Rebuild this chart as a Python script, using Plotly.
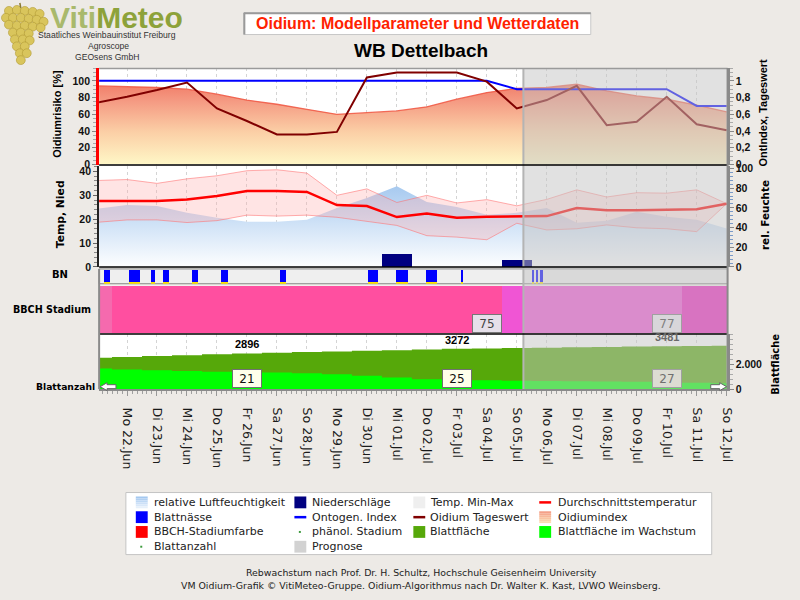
import plotly.graph_objects as go

W, H = 800, 600
def px(x): return x / W
def py(y): return 1 - y / H

# ---------------- data ----------------
days = list(range(-1, 21))            # 21 Jun .. 12 Jul (0 = 22 Jun)
tick_days = list(range(0, 21))
date_labels = ["Mo 22.Jun", "Di 23.Jun", "Mi 24.Jun", "Do 25.Jun", "Fr 26.Jun", "Sa 27.Jun",
               "So 28.Jun", "Mo 29.Jun", "Di 30.Jun", "Mi 01.Jul", "Do 02.Jul", "Fr 03.Jul",
               "Sa 04.Jul", "So 05.Jul", "Mo 06.Jul", "Di 07.Jul", "Mi 08.Jul", "Do 09.Jul",
               "Fr 10.Jul", "Sa 11.Jul", "So 12.Jul"]

oidium_index = [94, 93, 92, 90, 84, 77, 72, 66, 60, 62, 64, 69, 78, 86, 91, 92, 96, 88, 82, 78, 71, 63]
oidium_tageswert = [0.74, 0.81, 0.89, 0.98, 0.67, 0.52, 0.36, 0.36, 0.39, 1.04, 1.10, 1.10, 1.10,
                    0.99, 0.67, 0.77, 0.94, 0.47, 0.51, 0.81, 0.48, 0.41]
ontogen_index = [1.0, 1.0, 1.0, 1.0, 1.0, 1.0, 1.0, 1.0, 1.0, 1.0, 1.0, 1.0, 1.0, 1.0,
                 0.9, 0.9, 0.9, 0.9, 0.9, 0.9, 0.7, 0.7]

temp_max = [36.2, 36.6, 35.0, 36.9, 38.2, 40.3, 40.7, 39.3, 30.0, 32.7, 27.0, 30.0, 26.8, 28.2,
            25.6, 28.3, 32.3, 29.3, 31.1, 30.9, 32.3, 26.5]
temp_min = [18.7, 19.7, 19.7, 18.6, 19.4, 21.7, 21.3, 21.7, 20.8, 19.0, 17.4, 13.1, 12.5, 11.4,
            18.3, 15.5, 16.0, 17.6, 16.4, 16.0, 14.8, 26.5]
temp_mean = [27.6, 27.6, 27.6, 28.2, 29.7, 31.8, 31.8, 31.4, 25.9, 25.5, 20.9, 22.4, 20.6, 21.0,
             21.0, 21.3, 24.7, 23.7, 23.7, 24.0, 24.2, 26.5]
rel_humidity = [59, 63, 62, 55, 50, 46, 46, 48, 60, 70, 82, 66, 61, 53, 55, 60, 45, 47, 56, 51, 48, 39]
precipitation = [0, 0, 0, 0, 0, 0, 0, 0, 0, 0, 5.6, 0, 0, 0, 3.3, 0, 0, 0, 0, 0, 0, 0]

# leaf wetness periods (day offsets from 22 Jun 00:00)
bn_start = [-0.76, 0.07, 0.79, 1.19, 2.18, 3.14, 5.12, 8.03, 8.99, 9.98, 11.14, 13.52, 13.65, 13.79]
bn_end = [-0.56, 0.43, 0.93, 1.39, 2.38, 3.37, 5.29, 8.36, 9.39, 10.35, 11.21, 13.59, 13.72, 13.88]

# BBCH stage periods
bbch_start = [-1.0, -0.5, 12.5, 13.22, 18.5]
bbch_end = [-0.5, 12.5, 13.22, 18.5, 20.5]
bbch_label_days = [12, 18]
bbch_label_values = [75, 77]

blattflaeche = [2540, 2610, 2680, 2755, 2825, 2896, 2950, 3005, 3058, 3112, 3165, 3218, 3272,
                3302, 3332, 3362, 3392, 3422, 3452, 3481, 3505, 3525]
blattflaeche_wachstum = [1680, 1600, 1540, 1480, 1420, 1400, 1340, 1280, 1200, 1080, 940, 800,
                         760, 720, 680, 650, 640, 620, 600, 560, 520, 480]
label_days = [4, 11, 18]
blattanzahl = [21, 25, 27]

prognose_start = 13.22
x_range = [-0.93, 20.03]

# ---------------- styles ----------------
bbch_colors = ['#F56AAE', '#FF4FA0', '#F055D4', '#F055D4', '#EC22BE']
BG = '#EDEAE6'
TICKFONT = dict(family='Liberation Sans', size=10.5, color='#111', weight='bold')

fig = go.Figure()

# --- top panel ---
fig.add_trace(go.Scatter(
    x=days, y=oidium_index, xaxis='x', yaxis='y', mode='lines', fill='tozeroy',
    line=dict(color='rgba(240,85,65,0.85)', width=1.3),
    fillgradient=dict(type='vertical',
                      colorscale=[[0, '#FFF9C8'], [0.4, '#FBCFA6'], [0.75, '#F59C84'], [1, '#F07864']],
                      start=0, stop=100),
    hoverinfo='skip', showlegend=False))
fig.add_trace(go.Scatter(x=days, y=ontogen_index, xaxis='x', yaxis='y2', mode='lines',
                         line=dict(color='#0000FF', width=2), hoverinfo='skip', showlegend=False))
fig.add_trace(go.Scatter(x=days, y=oidium_tageswert, xaxis='x', yaxis='y2', mode='lines',
                         line=dict(color='#800000', width=2), hoverinfo='skip', showlegend=False))

# --- middle panel ---
fig.add_trace(go.Scatter(
    x=days, y=rel_humidity, xaxis='x2', yaxis='y3', mode='lines', fill='tozeroy',
    line=dict(width=0, color='rgba(0,0,0,0)'),
    fillgradient=dict(type='vertical', colorscale=[[0, '#FFFFFF'], [1, '#94BEEC']], start=0, stop=100),
    hoverinfo='skip', showlegend=False))
fig.add_trace(go.Scatter(x=days, y=temp_min, xaxis='x2', yaxis='y4', mode='lines',
                         line=dict(color='rgba(255,110,110,0.55)', width=1),
                         hoverinfo='skip', showlegend=False))
fig.add_trace(go.Scatter(x=days, y=temp_max, xaxis='x2', yaxis='y4', mode='lines', fill='tonexty',
                         fillcolor='rgba(255,170,170,0.32)',
                         line=dict(color='rgba(255,110,110,0.55)', width=1),
                         hoverinfo='skip', showlegend=False))
fig.add_trace(go.Bar(x=days, y=precipitation, xaxis='x2', yaxis='y4', width=1.0,
                     marker=dict(color='#000080', line=dict(width=0)),
                     hoverinfo='skip', showlegend=False))
fig.add_trace(go.Scatter(x=days, y=temp_mean, xaxis='x2', yaxis='y4', mode='lines',
                         line=dict(color='#FF0000', width=2.5), hoverinfo='skip', showlegend=False))

# --- BN panel ---
bn_center = [(s + e) / 2 for s, e in zip(bn_start, bn_end)]
bn_width = [e - s for s, e in zip(bn_start, bn_end)]
fig.add_trace(go.Bar(x=bn_center, y=[0.8] * len(bn_center), base=0.13, width=bn_width,
                     xaxis='x3', yaxis='y5', marker=dict(color='#0000FF', line=dict(width=0)),
                     hoverinfo='skip', showlegend=False))
fig.add_trace(go.Bar(x=bn_center, y=[0.1] * len(bn_center), base=0.03, width=bn_width,
                     xaxis='x3', yaxis='y5', marker=dict(color='#FFE400', line=dict(width=0)),
                     hoverinfo='skip', showlegend=False))

# --- BBCH panel ---
bb_center = [(s + e) / 2 for s, e in zip(bbch_start, bbch_end)]
bb_width = [e - s for s, e in zip(bbch_start, bbch_end)]
fig.add_trace(go.Bar(x=bb_center, y=[1] * len(bb_center), base=0, width=bb_width,
                     xaxis='x4', yaxis='y6', marker=dict(color=bbch_colors, line=dict(width=0)),
                     hoverinfo='skip', showlegend=False))

# --- Blattfläche panel ---
fig.add_trace(go.Scatter(x=days, y=blattflaeche, xaxis='x5', yaxis='y7', mode='lines',
                         line=dict(shape='hvh', width=0, color='#56A80A'), fill='tozeroy',
                         fillcolor='#56A80A', hoverinfo='skip', showlegend=False))
fig.add_trace(go.Scatter(x=days, y=blattflaeche_wachstum, xaxis='x5', yaxis='y7', mode='lines',
                         line=dict(shape='hvh', width=0, color='#00FF00'), fill='tozeroy',
                         fillcolor='#00FF00', hoverinfo='skip', showlegend=False))

# ---------------- axes ----------------
xdom = [px(100), px(734)]
grid = dict(showgrid=True, gridcolor='#D4D4D4', griddash='dot', gridwidth=1,
            tickmode='linear', tick0=0, dtick=1)
nogrid = dict(showgrid=False)
common_x = dict(domain=xdom, range=x_range, zeroline=False, showticklabels=False, ticks='')

layout = dict(
    width=W, height=H, autosize=False, margin=dict(l=0, r=0, t=0, b=0),
    paper_bgcolor=BG, plot_bgcolor='white', showlegend=False, hovermode=False,
    bargap=0, barmode='overlay',
    xaxis=dict(**common_x, anchor='y', **grid),
    xaxis2=dict(**common_x, anchor='y3', **grid),
    xaxis3=dict(**common_x, anchor='y5', **nogrid),
    xaxis4=dict(**common_x, anchor='y6', **nogrid),
    xaxis5=dict(domain=xdom, range=x_range, zeroline=False, anchor='y7',
                showgrid=True, gridcolor='#D4D4D4', griddash='dot',
                tickmode='array', tickvals=tick_days, ticktext=date_labels, tickangle=90,
                tickfont=dict(family='DejaVu Sans', size=12.5, color='#1A1A1A'),
                ticks='outside', ticklen=5, tickcolor='#999', ticklabelstandoff=9,
                showline=True, linecolor='#8A8A8A', linewidth=2,
                minor=dict(dtick=1 / 6, tick0=0, ticks='outside', ticklen=3, tickcolor='#A0A0A0',
                           showgrid=False)),
    yaxis=dict(domain=[py(164), py(66)], range=[0, 115.3], anchor='x',
               tickmode='array', tickvals=[0, 20, 40, 60, 80, 100], tickfont=TICKFONT,
               ticks='outside', ticklen=4, tickcolor='#888', showgrid=False, zeroline=False,
               showline=True, linecolor='#FF0000', linewidth=3,
               minor=dict(dtick=5, ticks='outside', ticklen=3, tickcolor='#AAA')),
    yaxis2=dict(overlaying='y', side='right', anchor='x', range=[0, 1.153],
                tickmode='array', tickvals=[0, 0.2, 0.4, 0.6, 0.8, 1.0],
                ticktext=['0', '0,2', '0,4', '0,6', '0,8', '1'], tickfont=TICKFONT,
                ticks='outside', ticklen=4, tickcolor='#888', showgrid=False, zeroline=False,
                showline=True, linecolor='#8A8A8A', linewidth=2,
                minor=dict(dtick=0.05, ticks='outside', ticklen=3, tickcolor='#AAA')),
    yaxis3=dict(domain=[py(268), py(165)], range=[0, 103], anchor='x2', side='right',
                tickmode='array', tickvals=[0, 20, 40, 60, 80, 100], tickfont=TICKFONT,
                ticks='outside', ticklen=4, tickcolor='#888', showgrid=False, zeroline=False,
                showline=True, linecolor='#8A8A8A', linewidth=2,
                minor=dict(dtick=4, ticks='outside', ticklen=3, tickcolor='#7A9AC8')),
    yaxis4=dict(overlaying='y3', side='left', anchor='x2', range=[0, 42.47],
                tickmode='array', tickvals=[0, 10, 20, 30, 40], tickfont=TICKFONT,
                ticks='outside', ticklen=4, tickcolor='#666', showgrid=False, zeroline=False,
                showline=True, linecolor='#222', linewidth=2,
                minor=dict(dtick=2, ticks='outside', ticklen=3, tickcolor='#888')),
    yaxis5=dict(domain=[py(285), py(270)], range=[0, 1], anchor='x3', showticklabels=False,
                ticks='', showgrid=False, zeroline=False),
    yaxis6=dict(domain=[py(335), py(287)], range=[0, 1], anchor='x4', showticklabels=False,
                ticks='', showgrid=False, zeroline=False),
    yaxis7=dict(domain=[py(392), py(336)], range=[0, 4480], anchor='x5', side='right',
                tickmode='array', tickvals=[0, 2000], ticktext=['0', '2.000'], tickfont=TICKFONT,
                ticks='outside', ticklen=4, tickcolor='#888', showgrid=False, zeroline=False,
                showline=True, linecolor='#8A8A8A', linewidth=2,
                minor=dict(dtick=400, ticks='outside', ticklen=3, tickcolor='#AAA')),
)
fig.update_layout(**layout)

# ---------------- shapes ----------------
shapes = []
def prect(x0, y0, x1, y1, **kw):
    return dict(type='rect', xref='paper', yref='paper', x0=px(x0), x1=px(x1), y0=py(y1), y1=py(y0), **kw)
def pline(x0, y0, x1, y1, color, width=1, layer='above'):
    return dict(type='line', xref='paper', yref='paper', x0=px(x0), x1=px(x1), y0=py(y0), y1=py(y1),
                line=dict(color=color, width=width), layer=layer)

# BN background
shapes.append(prect(100, 270, 734, 285, fillcolor='#EFEFEF', line=dict(color='#8A8A8A', width=1), layer='below'))
# prognosis overlay
shapes.append(dict(type='rect', xref='x', yref='paper', x0=prognose_start, x1=x_range[1],
                   y0=py(392), y1=py(66), fillcolor='rgba(195,195,195,0.5)', line=dict(width=0), layer='above'))
shapes.append(dict(type='line', xref='x', yref='paper', x0=prognose_start, x1=prognose_start,
                   y0=py(392), y1=py(66), line=dict(color='#B4B4B4', width=2), layer='above'))
# frame lines
shapes.append(pline(100, 66.5, 734, 66.5, '#9A9A9A', 1.5))
shapes.append(pline(100, 164.5, 734, 164.5, '#000', 1.5))
shapes.append(pline(100, 268, 734, 268, '#000', 1.5))
shapes.append(pline(100, 336, 734, 336, '#000', 1.5))
shapes.append(pline(100, 270, 100, 392, '#8A8A8A', 2))
shapes.append(pline(734, 66, 734, 392, '#8A8A8A', 2))

# title box
shapes.append(prect(246, 10, 596, 32, fillcolor='white', line=dict(color='#C8C8C8', width=1)))
shapes.append(pline(246, 10.5, 596, 10.5, '#9A9A9A', 2))
shapes.append(pline(246.5, 10, 246.5, 32, '#9A9A9A', 2))

# grape cluster logo
grapes = [(9, 8), (17, 7), (25, 8), (33, 9), (40, 11),
          (6, 15), (13, 15), (21, 15), (29, 16), (37, 17), (44, 19),
          (9, 22), (17, 23), (25, 23), (33, 24), (41, 25),
          (13, 30), (21, 30), (29, 31),
          (15, 37), (23, 37), (30, 38),
          (17, 44), (25, 44), (20, 51), (27, 51), (21, 58)]
for cx, cy in grapes:
    shapes.append(dict(type='circle', xref='paper', yref='paper', x0=px(cx - 4.5), x1=px(cx + 4.5),
                       y0=py(cy + 4.5), y1=py(cy - 4.5), fillcolor='#D9C55C',
                       line=dict(color='#B19B34', width=0.6)))
shapes.append(pline(20, 0, 21, 5, '#8A7A30', 1.5))

# arrows at Blattanzahl row
def ppath(points):
    return 'M ' + ' L '.join(f'{px(x):.5f},{py(y):.5f}' for x, y in points) + ' Z'
shapes.append(dict(type='path', xref='paper', yref='paper',
                   path=ppath([(101, 389.5), (108, 385.5), (108, 387.5), (117, 387.5), (117, 391.5),
                               (108, 391.5), (108, 393.5)]),
                   fillcolor='white', line=dict(color='#666', width=1)))
shapes.append(dict(type='path', xref='paper', yref='paper',
                   path=ppath([(733, 389.5), (726, 385.5), (726, 387.5), (717, 387.5), (717, 391.5),
                               (726, 391.5), (726, 393.5)]),
                   fillcolor='white', line=dict(color='#666', width=1)))

# legend box
shapes.append(prect(127, 497, 718, 560, fillcolor='white', line=dict(color='#C4C4C4', width=1)))

annotations = []
def ptext(x, y, text, size=11, color='#222', family='DejaVu Sans', weight='normal',
          xanchor='center', yanchor='middle', angle=0, **kw):
    return dict(xref='paper', yref='paper', x=px(x), y=py(y), text=text, showarrow=False,
                xanchor=xanchor, yanchor=yanchor, textangle=angle,
                font=dict(family=family, size=size, color=color, weight=weight), **kw)

legend_items = [
    ("relative Luftfeuchtigkeit", 'grad', ('#A4C8F0', '#E6F0FB'), 0, 0),
    ("Blattnässe", 'sq', '#0000FF', 0, 1),
    ("BBCH-Stadiumfarbe", 'sq', '#FF0000', 0, 2),
    ("Blattanzahl", 'dot', '#3C9A3C', 0, 3),
    ("Niederschläge", 'sq', '#000080', 1, 0),
    ("Ontogen. Index", 'line', '#0000FF', 1, 1),
    ("phänol. Stadium", 'dot', '#3C9A3C', 1, 2),
    ("Prognose", 'sq', '#D2D2D2', 1, 3),
    ("Temp. Min-Max", 'sq', '#EFEFEF', 2, 0),
    ("Oidium Tageswert", 'line', '#800000', 2, 1),
    ("Blattfläche", 'sq', '#56A80A', 2, 2),
    ("Durchschnittstemperatur", 'line', '#FF0000', 3, 0),
    ("Oidiumindex", 'grad', ('#F4A088', '#FCDCB4'), 3, 1),
    ("Blattfläche im Wachstum", 'sq', '#00FF00', 3, 2),
]
icon_x = [137, 297, 417, 544]
text_x = [153, 313, 432, 561]
row_y = [507, 522, 537, 552]
for label, kind, color, c, r in legend_items:
    x0, y0 = icon_x[c], row_y[r]
    if kind == 'sq':
        shapes.append(prect(x0, y0 - 6, x0 + 12, y0 + 6, fillcolor=color, line=dict(width=0)))
    elif kind == 'grad':
        for k in range(6):
            t = k / 5
            c0 = [int(color[0][i:i + 2], 16) for i in (1, 3, 5)]
            c1 = [int(color[1][i:i + 2], 16) for i in (1, 3, 5)]
            cc = 'rgb(%d,%d,%d)' % tuple(round(a + (b - a) * t) for a, b in zip(c0, c1))
            shapes.append(prect(x0, y0 - 6 + 2 * k, x0 + 12, y0 - 4 + 2 * k, fillcolor=cc, line=dict(width=0)))
    elif kind == 'line':
        shapes.append(pline(x0, y0, x0 + 12, y0, color, 2.5))
    elif kind == 'dot':
        shapes.append(prect(x0 + 4.5, y0 - 1, x0 + 6.5, y0 + 1, fillcolor=color, line=dict(width=0)))
    annotations.append(ptext(text_x[c], y0, label, size=11, color='#222', xanchor='left'))

# titles / logo
annotations.append(ptext(421, 21, 'Oidium: Modellparameter und Wetterdaten', size=16, color='#FF2200',
                         family='Liberation Sans', weight='bold'))
annotations.append(ptext(425, 48, 'WB Dettelbach', size=19, color='#000', family='Liberation Sans', weight='bold'))
annotations.append(ptext(48, 14, '<span style="color:#A9B96C">Viti</span><span style="color:#8DA23A">Meteo</span>',
                         size=30, color='#8DA23A', family='Liberation Sans', weight='bold', xanchor='left',
                         height=24, valign='middle'))
annotations.append(ptext(108, 32.5, 'Staatliches Weinbauinstitut Freiburg', size=8.6, color='#333', family='Liberation Sans'))
annotations.append(ptext(109, 44, 'Agroscope', size=8.6, color='#333', family='Liberation Sans'))
annotations.append(ptext(108, 55, 'GEOsens GmbH', size=8.6, color='#333', family='Liberation Sans'))

# axis titles
annotations.append(ptext(58, 112, 'Oidiumrisiko [%]', size=11, color='#000', family='Liberation Sans',
                         weight='bold', angle=-90))
annotations.append(ptext(61, 214, 'Temp, Nied', size=10.8, color='#000', weight='bold', angle=-90))
annotations.append(ptext(61, 276, 'BN', size=10, color='#000', weight='bold'))
annotations.append(ptext(52, 311, 'BBCH Stadium', size=9.6, color='#000', weight='bold'))
annotations.append(ptext(66, 389, 'Blattanzahl', size=9.2, color='#000', weight='bold'))
annotations.append(ptext(770, 111, 'OntIndex, Tageswert', size=11, color='#000', family='Liberation Sans',
                         weight='bold', angle=-90))
annotations.append(ptext(772, 215, 'rel. Feuchte', size=10.4, color='#000', weight='bold', angle=-90))
annotations.append(ptext(782, 367, 'Blattfläche', size=9.9, color='#000', weight='bold', angle=-90))

# Blattfläche value labels & leaf count boxes
for d, n in zip(label_days, blattanzahl):
    v = blattflaeche[days.index(d)]
    prog = d >= prognose_start
    annotations.append(dict(xref='x5', yref='y7', x=d, y=v, yanchor='bottom', yshift=1, showarrow=False,
                            text=str(v), font=dict(family='Liberation Sans', size=11, weight='bold',
                                                   color='#6A6A6A' if prog else '#000')))
    annotations.append(dict(xref='x5', yref='y7', x=d, y=0, yanchor='bottom', yshift=1, showarrow=False,
                            text=str(n), width=24, height=13, borderpad=2, borderwidth=1,
                            bgcolor='#DCDCD2' if prog else '#FFFFEA',
                            bordercolor='#A0A0A0' if prog else '#707070',
                            font=dict(family='DejaVu Sans', size=12, color='#707070' if prog else '#111')))
for d, s in zip(bbch_label_days, bbch_label_values):
    prog = d >= prognose_start
    annotations.append(dict(xref='x4', yref='y6', x=d, y=0, yanchor='bottom', yshift=0, showarrow=False,
                            text=str(s), width=24, height=13, borderpad=2, borderwidth=1,
                            bgcolor='#D8D6DA' if prog else '#E6E0EA',
                            bordercolor='#A0A0A0' if prog else '#777',
                            font=dict(family='DejaVu Sans', size=12, color='#808080' if prog else '#444')))

# footer
annotations.append(ptext(425, 578, 'Rebwachstum nach Prof. Dr. H. Schultz, Hochschule Geisenheim University',
                         size=9.4, color='#222'))
annotations.append(ptext(425, 591, 'VM Oidium-Grafik © VitiMeteo-Gruppe. Oidium-Algorithmus nach Dr. Walter K. Kast, LVWO Weinsberg.',
                         size=9.4, color='#222'))

fig.update_layout(shapes=shapes, annotations=annotations)
fig.write_html("out.html")
